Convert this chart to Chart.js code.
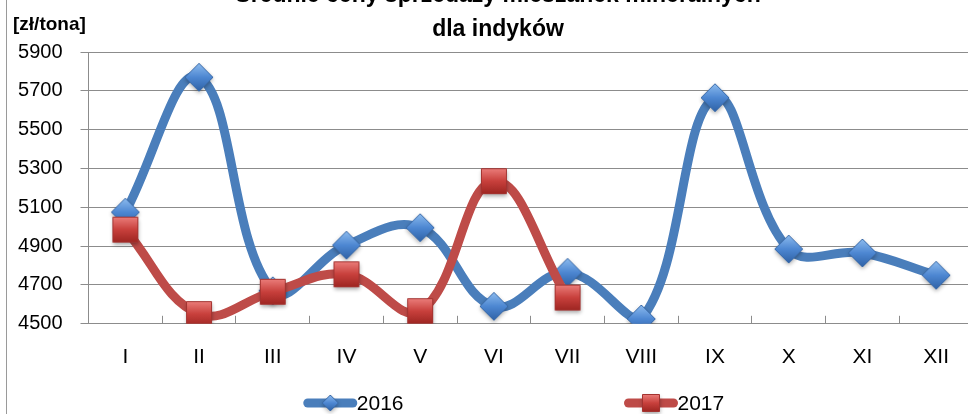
<!DOCTYPE html>
<html lang="pl">
<head>
    <meta charset="UTF-8">
    <title>Średnie ceny sprzedaży mieszanek mineralnych dla indyków</title>
    <script src="https://cdn.jsdelivr.net/npm/chart.js"></script>
    <style>
        body {
            margin: 0;
            width: 968px;
            height: 414px;
            overflow: hidden;
            background: #fff;
        }
        /* wykres jest nieco większy niż okno, tak jak w wycinku z Excela */
        #chartBox {
            position: absolute;
            left: 0;
            top: -21px;
        }
    </style>
</head>
<body>
    <div id="chartBox">
        <canvas id="paszeChart" width="996" height="435"></canvas>
    </div>

    <script>
        // Dane
        const miesiace = ['I', 'II', 'III', 'IV', 'V', 'VI', 'VII', 'VIII', 'IX', 'X', 'XI', 'XII'];
        const ceny2016 = [5075, 5770, 4670, 4905, 4995, 4590, 4765, 4525, 5665, 4885, 4865, 4750];
        const ceny2017 = [4985, 4550, 4665, 4755, 4565, 5235, 4635, null, null, null, null, null];
        const osY = { min: 4500, max: 5900, krok: 200 };
        const jednostka = '[zł/tona]';

        const NIEBIESKI = '#4a7ebb';
        const CZERWONY = '#be4b48';
        const FONT = "'Liberation Sans', Arial, sans-serif";

        // znaczniki w stylu Excela (gradient + cień)
        function znacznik(ksztalt, r, kolory) {
            const m = Math.ceil(r * 1.5) + 6;
            const c = document.createElement('canvas');
            c.width = m * 2;
            c.height = m * 2;
            const g = c.getContext('2d');
            g.shadowColor = 'rgba(0,0,0,0.35)';
            g.shadowBlur = 4;
            g.shadowOffsetY = 2;
            const grad = g.createLinearGradient(0, m - r, 0, m + r);
            grad.addColorStop(0, kolory[0]);
            grad.addColorStop(0.5, kolory[1]);
            grad.addColorStop(1, kolory[2]);
            g.fillStyle = grad;
            g.beginPath();
            if (ksztalt === 'romb') {
                g.moveTo(m, m - r);
                g.lineTo(m + r, m);
                g.lineTo(m, m + r);
                g.lineTo(m - r, m);
            } else {
                g.rect(m - r, m - r, 2 * r, 2 * r);
            }
            g.closePath();
            g.fill();
            g.shadowColor = 'transparent';
            g.strokeStyle = kolory[3];
            g.lineWidth = 1;
            g.stroke();
            return c;
        }

        const romb = znacznik('romb', 14, ['#8dbbee', '#4d87d2', '#2f62a6', '#3a6aa8']);
        const kwadrat = znacznik('kwadrat', 12.5, ['#ea7c79', '#c8403c', '#9e2622', '#a33330']);
        const rombMaly = znacznik('romb', 8, ['#8dbbee', '#4d87d2', '#2f62a6', '#3a6aa8']);
        const kwadratMaly = znacznik('kwadrat', 8.5, ['#ea7c79', '#c8403c', '#9e2622', '#a33330']);

        // ramka, jednostka osi i legenda rysowane jak w Excelu
        const dodatki = {
            id: 'dodatki',
            afterLayout(chart) {
                // etykiety osi Y wystają w lewy margines - nie przycinamy ich
                chart.scales.y.left = 0;
            },
            beforeDraw(chart) {
                const ctx = chart.ctx;
                ctx.save();
                ctx.strokeStyle = '#9a9a9a';
                ctx.lineWidth = 1;
                ctx.beginPath();
                ctx.moveTo(6.5, 0);
                ctx.lineTo(6.5, chart.height);
                ctx.stroke();
                ctx.restore();
            },
            afterDraw(chart) {
                const ctx = chart.ctx;
                const area = chart.chartArea;
                ctx.save();
                ctx.fillStyle = '#000';
                ctx.font = 'bold 19px ' + FONT;
                ctx.textBaseline = 'alphabetic';
                ctx.textAlign = 'left';
                ctx.fillText(jednostka, 13, area.top - 22);

                // legenda
                const znaczki = [rombMaly, kwadratMaly];
                const dl = 53, odstep = 221;
                ctx.font = '21px ' + FONT;
                const sets = chart.data.datasets;
                const szer = sets.map(d => dl + ctx.measureText(d.label).width);
                const calosc = szer.reduce((a, b) => a + b, 0) + odstep * (sets.length - 1);
                let x = chart.width / 2 + 16 - calosc / 2;
                const y = chart.height - 11;
                sets.forEach((d, i) => {
                    ctx.strokeStyle = d.borderColor;
                    ctx.lineWidth = 9;
                    ctx.lineCap = 'round';
                    ctx.beginPath();
                    ctx.moveTo(x + 4, y);
                    ctx.lineTo(x + dl - 4, y);
                    ctx.stroke();
                    const z = znaczki[i];
                    ctx.drawImage(z, x + dl / 2 - z.width / 2, y - z.height / 2);
                    ctx.fillStyle = '#000';
                    ctx.textBaseline = 'middle';
                    ctx.fillText(d.label, x + dl, y + 1);
                    x += szer[i] + odstep;
                });
                ctx.restore();
            }
        };

        const ctx = document.getElementById('paszeChart').getContext('2d');
        const chart = new Chart(ctx, {
            type: 'line',
            data: {
                labels: miesiace,
                datasets: [
                    {
                        label: '2016',
                        data: ceny2016,
                        borderColor: NIEBIESKI,
                        backgroundColor: NIEBIESKI,
                        borderWidth: 9,
                        borderCapStyle: 'round',
                        borderJoinStyle: 'round',
                        tension: 0.4,
                        pointStyle: romb,
                        pointRadius: 14,
                        order: 2
                    },
                    {
                        label: '2017',
                        data: ceny2017,
                        borderColor: CZERWONY,
                        backgroundColor: CZERWONY,
                        borderWidth: 9,
                        borderCapStyle: 'round',
                        borderJoinStyle: 'round',
                        tension: 0.4,
                        pointStyle: kwadrat,
                        pointRadius: 14,
                        order: 1
                    }
                ]
            },
            options: {
                responsive: false,
                animation: false,
                events: [],
                layout: {
                    padding: { left: 23, right: 23, top: 0, bottom: 15 }
                },
                plugins: {
                    legend: { display: false },
                    tooltip: { enabled: false },
                    title: {
                        display: true,
                        text: ['Średnie ceny sprzedaży mieszanek mineralnych', 'dla indyków'],
                        color: '#000',
                        font: { family: FONT, size: 23, weight: 'bold', lineHeight: 1.48 },
                        padding: { top: 0, bottom: 5 }
                    }
                },
                scales: {
                    x: {
                        offset: true,
                        grid: {
                            offset: true,
                            drawOnChartArea: false,
                            drawTicks: true,
                            tickLength: -8,
                            color: '#8c8c8c'
                        },
                        border: { display: true, color: '#8c8c8c', width: 1 },
                        ticks: {
                            color: '#000',
                            padding: 29,
                            font: { family: FONT, size: 21 }
                        }
                    },
                    y: {
                        min: osY.min,
                        max: osY.max,
                        // stała szerokość osi, żeby tytuł był wyśrodkowany jak w oryginale
                        afterFit: scale => { scale.width = 65.5; },
                        grid: {
                            color: '#8c8c8c',
                            tickLength: 8
                        },
                        border: { display: true, color: '#8c8c8c', width: 1 },
                        ticks: {
                            stepSize: osY.krok,
                            color: '#000',
                            padding: 18,
                            font: { family: FONT, size: 20 },
                            callback: v => String(v)
                        }
                    }
                }
            },
            plugins: [dodatki]
        });
    </script>
</body>
</html>
